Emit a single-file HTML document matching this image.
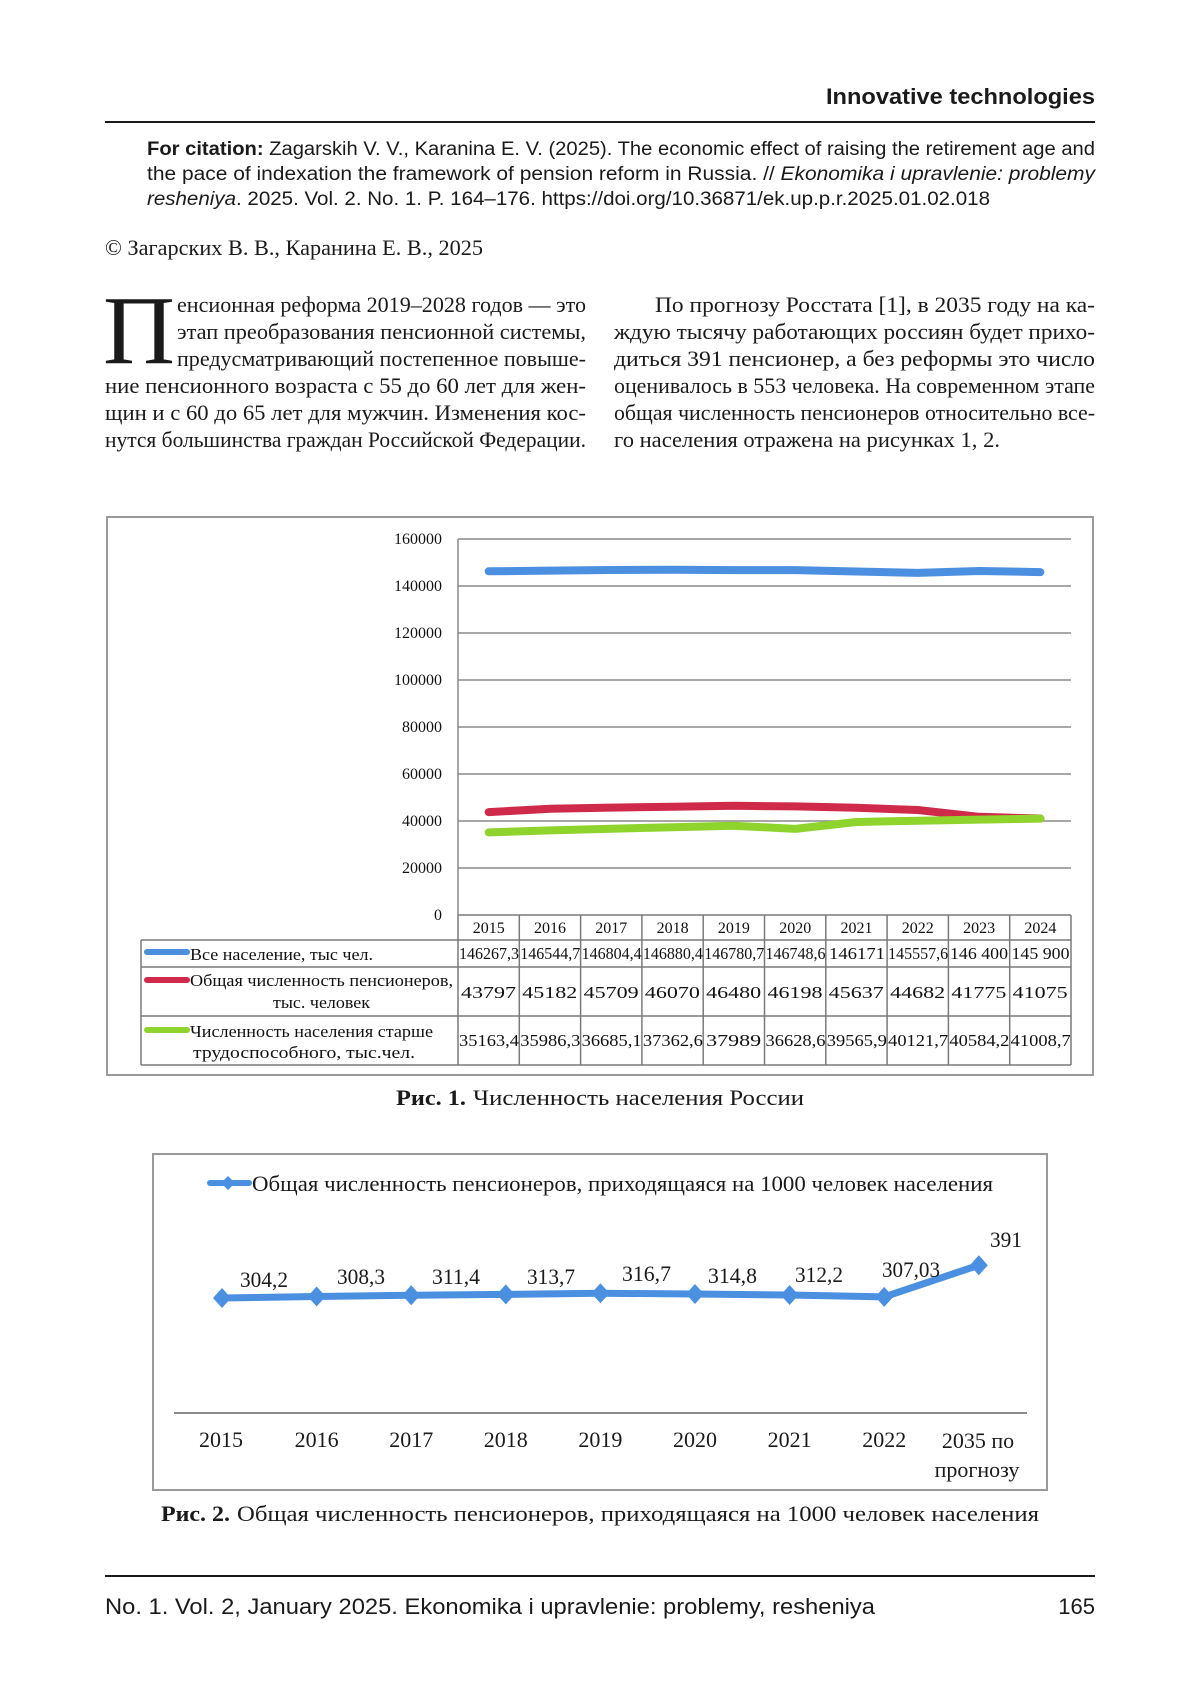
<!DOCTYPE html>
<html>
<head>
<meta charset="utf-8">
<style>
html,body{margin:0;padding:0;background:#fff;}
svg{display:block;}
.serif{font-family:"Liberation Serif","Noto Serif CJK SC",serif;}
.sans{font-family:"Liberation Sans","Noto Sans CJK SC",sans-serif;}
</style>
</head>
<body>
<svg width="1200" height="1698" viewBox="0 0 1200 1698" xmlns="http://www.w3.org/2000/svg">
<rect x="0" y="0" width="1200" height="1698" fill="#fff"/>

<!-- Header -->
<text class="sans" x="1095" y="104" font-size="22" font-weight="bold" text-anchor="end" fill="#1a1a1a" textLength="269" lengthAdjust="spacingAndGlyphs">Innovative technologies</text>
<line x1="105" y1="122" x2="1095" y2="122" stroke="#1a1a1a" stroke-width="2"/>

<!-- Citation -->
<g class="sans" font-size="19" fill="#1a1a1a">
<text x="147" y="155" textLength="948" lengthAdjust="spacingAndGlyphs"><tspan font-weight="bold">For citation:</tspan> Zagarskih V. V., Karanina E. V. (2025). The economic effect of raising the retirement age and</text>
<text x="147" y="180" textLength="948" lengthAdjust="spacingAndGlyphs">the pace of indexation the framework of pension reform in Russia. // <tspan font-style="italic">Ekonomika i upravlenie: problemy</tspan></text>
<text x="147" y="205" textLength="843" lengthAdjust="spacingAndGlyphs"><tspan font-style="italic">resheniya</tspan>. 2025. Vol. 2. No. 1. P. 164–176. https://doi.org/10.36871/ek.up.p.r.2025.01.02.018</text>
</g>

<!-- Copyright -->
<text class="serif" x="105" y="255" font-size="22" fill="#1a1a1a" textLength="378" lengthAdjust="spacingAndGlyphs">© Загарских В. В., Каранина Е. В., 2025</text>

<!-- Body text -->
<g class="serif" font-size="22" fill="#1a1a1a">
<text x="103" y="363" font-size="98" textLength="72" lengthAdjust="spacingAndGlyphs">П</text>
<text x="177" y="312" textLength="409" lengthAdjust="spacingAndGlyphs">енсионная реформа 2019–2028 годов — это</text>
<text x="177" y="339" textLength="409" lengthAdjust="spacingAndGlyphs">этап преобразования пенсионной системы,</text>
<text x="177" y="366" textLength="409" lengthAdjust="spacingAndGlyphs">предусматривающий постепенное повыше-</text>
<text x="105" y="393" textLength="481" lengthAdjust="spacingAndGlyphs">ние пенсионного возраста с 55 до 60 лет для жен-</text>
<text x="105" y="420" textLength="481" lengthAdjust="spacingAndGlyphs">щин и с 60 до 65 лет для мужчин. Изменения кос-</text>
<text x="105" y="447" textLength="481" lengthAdjust="spacingAndGlyphs">нутся большинства граждан Российской Федерации.</text>

<text x="655" y="312" textLength="440" lengthAdjust="spacingAndGlyphs">По прогнозу Росстата [1], в 2035 году на ка-</text>
<text x="614" y="339" textLength="481" lengthAdjust="spacingAndGlyphs">ждую тысячу работающих россиян будет прихо-</text>
<text x="614" y="366" textLength="481" lengthAdjust="spacingAndGlyphs">диться 391 пенсионер, а без реформы это число</text>
<text x="614" y="393" textLength="481" lengthAdjust="spacingAndGlyphs">оценивалось в 553 человека. На современном этапе</text>
<text x="614" y="420" textLength="481" lengthAdjust="spacingAndGlyphs">общая численность пенсионеров относительно все-</text>
<text x="614" y="447" textLength="386" lengthAdjust="spacingAndGlyphs">го населения отражена на рисунках 1, 2.</text>
</g>

<!-- ============ Chart 1 ============ -->
<rect x="107" y="517" width="986" height="558" fill="#fff" stroke="#9a9a9a" stroke-width="2"/>

<!-- gridlines -->
<g stroke="#8a8a8a" stroke-width="1.5">
<line x1="458" y1="539" x2="1071" y2="539"/>
<line x1="458" y1="586" x2="1071" y2="586"/>
<line x1="458" y1="633" x2="1071" y2="633"/>
<line x1="458" y1="680" x2="1071" y2="680"/>
<line x1="458" y1="727" x2="1071" y2="727"/>
<line x1="458" y1="774" x2="1071" y2="774"/>
<line x1="458" y1="821" x2="1071" y2="821"/>
<line x1="458" y1="868" x2="1071" y2="868"/>
<line x1="458" y1="539" x2="458" y2="915"/>
</g>

<!-- y labels -->
<g class="serif" font-size="16" fill="#111" text-anchor="end">
<text x="442" y="544">160000</text>
<text x="442" y="591">140000</text>
<text x="442" y="638">120000</text>
<text x="442" y="685">100000</text>
<text x="442" y="732">80000</text>
<text x="442" y="779">60000</text>
<text x="442" y="826">40000</text>
<text x="442" y="873">20000</text>
<text x="442" y="920">0</text>
</g>

<!-- series -->
<g fill="none" stroke-width="8" stroke-linecap="round" stroke-linejoin="round">
<polyline stroke="#4a8fe0" points="488.7,571.3 550.0,570.6 611.3,570.0 672.6,569.8 733.9,570.1 795.2,570.1 856.5,571.5 917.8,572.9 979.1,571.0 1040.4,572.1"/>
<polyline stroke="#d02a4a" points="488.7,812.1 550.0,808.8 611.3,807.6 672.6,806.7 733.9,805.8 795.2,806.4 856.5,807.8 917.8,810.0 979.1,816.8 1040.4,818.5"/>
<polyline stroke="#8fd42c" points="488.7,832.4 550.0,830.4 611.3,828.8 672.6,827.2 733.9,825.7 795.2,828.9 856.5,822.0 917.8,820.7 979.1,819.6 1040.4,818.6"/>
</g>

<!-- data table -->
<g stroke="#7a7a7a" stroke-width="1.5" fill="none">
<line x1="458" y1="915" x2="1071" y2="915"/>
<line x1="141" y1="940" x2="1071" y2="940"/>
<line x1="141" y1="967" x2="1071" y2="967"/>
<line x1="141" y1="1016" x2="1071" y2="1016"/>
<line x1="141" y1="1065" x2="1071" y2="1065"/>
<line x1="141" y1="940" x2="141" y2="1065"/>
<line x1="458" y1="915" x2="458" y2="1065"/>
<line x1="519.3" y1="915" x2="519.3" y2="1065"/>
<line x1="580.6" y1="915" x2="580.6" y2="1065"/>
<line x1="641.9" y1="915" x2="641.9" y2="1065"/>
<line x1="703.2" y1="915" x2="703.2" y2="1065"/>
<line x1="764.5" y1="915" x2="764.5" y2="1065"/>
<line x1="825.8" y1="915" x2="825.8" y2="1065"/>
<line x1="887.1" y1="915" x2="887.1" y2="1065"/>
<line x1="948.4" y1="915" x2="948.4" y2="1065"/>
<line x1="1009.7" y1="915" x2="1009.7" y2="1065"/>
<line x1="1071" y1="915" x2="1071" y2="1065"/>
</g>

<g class="serif" font-size="16" fill="#111" text-anchor="middle">
<text x="488.7" y="933">2015</text>
<text x="550.0" y="933">2016</text>
<text x="611.3" y="933">2017</text>
<text x="672.6" y="933">2018</text>
<text x="733.9" y="933">2019</text>
<text x="795.2" y="933">2020</text>
<text x="856.5" y="933">2021</text>
<text x="917.8" y="933">2022</text>
<text x="979.1" y="933">2023</text>
<text x="1040.4" y="933">2024</text>
</g>
<g class="serif" font-size="17" fill="#111">
<text x="459" y="959" textLength="60" lengthAdjust="spacingAndGlyphs">146267,3</text>
<text x="520.3" y="959" textLength="60" lengthAdjust="spacingAndGlyphs">146544,7</text>
<text x="581.6" y="959" textLength="60" lengthAdjust="spacingAndGlyphs">146804,4</text>
<text x="642.9" y="959" textLength="60" lengthAdjust="spacingAndGlyphs">146880,4</text>
<text x="704.2" y="959" textLength="60" lengthAdjust="spacingAndGlyphs">146780,7</text>
<text x="765.5" y="959" textLength="60" lengthAdjust="spacingAndGlyphs">146748,6</text>
<text x="829" y="959" textLength="56" lengthAdjust="spacingAndGlyphs">146171</text>
<text x="888.1" y="959" textLength="60" lengthAdjust="spacingAndGlyphs">145557,6</text>
<text x="950" y="959" textLength="58" lengthAdjust="spacingAndGlyphs">146 400</text>
<text x="1011.5" y="959" textLength="58" lengthAdjust="spacingAndGlyphs">145 900</text>

<text x="461" y="998" textLength="55" lengthAdjust="spacingAndGlyphs">43797</text>
<text x="522.3" y="998" textLength="55" lengthAdjust="spacingAndGlyphs">45182</text>
<text x="583.6" y="998" textLength="55" lengthAdjust="spacingAndGlyphs">45709</text>
<text x="644.9" y="998" textLength="55" lengthAdjust="spacingAndGlyphs">46070</text>
<text x="706.2" y="998" textLength="55" lengthAdjust="spacingAndGlyphs">46480</text>
<text x="767.5" y="998" textLength="55" lengthAdjust="spacingAndGlyphs">46198</text>
<text x="828.8" y="998" textLength="55" lengthAdjust="spacingAndGlyphs">45637</text>
<text x="890.1" y="998" textLength="55" lengthAdjust="spacingAndGlyphs">44682</text>
<text x="951.4" y="998" textLength="55" lengthAdjust="spacingAndGlyphs">41775</text>
<text x="1012.7" y="998" textLength="55" lengthAdjust="spacingAndGlyphs">41075</text>

<text x="459" y="1046" textLength="60" lengthAdjust="spacingAndGlyphs">35163,4</text>
<text x="520.3" y="1046" textLength="60" lengthAdjust="spacingAndGlyphs">35986,3</text>
<text x="581.6" y="1046" textLength="60" lengthAdjust="spacingAndGlyphs">36685,1</text>
<text x="642.9" y="1046" textLength="60" lengthAdjust="spacingAndGlyphs">37362,6</text>
<text x="706.2" y="1046" textLength="55" lengthAdjust="spacingAndGlyphs">37989</text>
<text x="765.5" y="1046" textLength="60" lengthAdjust="spacingAndGlyphs">36628,6</text>
<text x="826.8" y="1046" textLength="60" lengthAdjust="spacingAndGlyphs">39565,9</text>
<text x="888.1" y="1046" textLength="60" lengthAdjust="spacingAndGlyphs">40121,7</text>
<text x="949.4" y="1046" textLength="60" lengthAdjust="spacingAndGlyphs">40584,2</text>
<text x="1010.7" y="1046" textLength="60" lengthAdjust="spacingAndGlyphs">41008,7</text>
</g>

<!-- legend keys -->
<g stroke-width="6" stroke-linecap="round">
<line x1="147" y1="952" x2="187" y2="952" stroke="#4a8fe0"/>
<line x1="147" y1="980" x2="187" y2="980" stroke="#d02a4a"/>
<line x1="147" y1="1030" x2="187" y2="1030" stroke="#8fd42c"/>
</g>
<g class="serif" font-size="17" fill="#111">
<text x="190" y="960" textLength="183" lengthAdjust="spacingAndGlyphs">Все население, тыс чел.</text>
<text x="190" y="986" textLength="263" lengthAdjust="spacingAndGlyphs">Общая численность пенсионеров,</text>
<text x="273" y="1008" textLength="97" lengthAdjust="spacingAndGlyphs">тыс. человек</text>
<text x="190" y="1037" textLength="243" lengthAdjust="spacingAndGlyphs">Численность населения старше</text>
<text x="193" y="1058" textLength="222" lengthAdjust="spacingAndGlyphs">трудоспособного, тыс.чел.</text>
</g>

<!-- caption 1 -->
<g class="serif" font-size="22" fill="#1a1a1a">
<text x="396" y="1105" font-weight="bold" textLength="70" lengthAdjust="spacingAndGlyphs">Рис. 1.</text>
<text x="473" y="1105" textLength="331" lengthAdjust="spacingAndGlyphs">Численность населения России</text>
</g>

<!-- ============ Chart 2 ============ -->
<rect x="153" y="1154" width="894" height="336" fill="#fff" stroke="#9a9a9a" stroke-width="2"/>

<!-- legend -->
<line x1="210" y1="1183" x2="249" y2="1183" stroke="#4a8fe0" stroke-width="6" stroke-linecap="round"/>
<polygon points="228,1176 235,1183 228,1190 221,1183" fill="#4a8fe0"/>
<text class="serif" x="252" y="1191" font-size="22" fill="#1a1a1a" textLength="741" lengthAdjust="spacingAndGlyphs">Общая численность пенсионеров, приходящаяся на 1000 человек населения</text>

<!-- axis -->
<line x1="174" y1="1413" x2="1027" y2="1413" stroke="#8a8a8a" stroke-width="2"/>

<!-- series -->
<polyline fill="none" stroke="#4a8fe0" stroke-width="7" stroke-linejoin="round" points="222,1298 316.6,1296.5 411.2,1295.3 505.8,1294.4 600.4,1293.3 695,1294 789.6,1295 884.2,1296.9 978.8,1265.2"/>
<g fill="#4a8fe0">
<polygon points="222,1288 231,1298 222,1308 213,1298"/>
<polygon points="316.6,1286.5 325.6,1296.5 316.6,1306.5 307.6,1296.5"/>
<polygon points="411.2,1285.3 420.2,1295.3 411.2,1305.3 402.2,1295.3"/>
<polygon points="505.8,1284.4 514.8,1294.4 505.8,1304.4 496.8,1294.4"/>
<polygon points="600.4,1283.3 609.4,1293.3 600.4,1303.3 591.4,1293.3"/>
<polygon points="695,1284 704,1294 695,1304 686,1294"/>
<polygon points="789.6,1285 798.6,1295 789.6,1305 780.6,1295"/>
<polygon points="884.2,1286.9 893.2,1296.9 884.2,1306.9 875.2,1296.9"/>
<polygon points="978.8,1255.2 987.8,1265.2 978.8,1275.2 969.8,1265.2"/>
</g>

<!-- data labels -->
<g class="serif" font-size="22" fill="#1a1a1a">
<text x="240" y="1287" textLength="48" lengthAdjust="spacingAndGlyphs">304,2</text>
<text x="337" y="1284" textLength="48" lengthAdjust="spacingAndGlyphs">308,3</text>
<text x="432" y="1284" textLength="48" lengthAdjust="spacingAndGlyphs">311,4</text>
<text x="527" y="1284" textLength="48" lengthAdjust="spacingAndGlyphs">313,7</text>
<text x="622" y="1281" textLength="49" lengthAdjust="spacingAndGlyphs">316,7</text>
<text x="708" y="1283" textLength="49" lengthAdjust="spacingAndGlyphs">314,8</text>
<text x="795" y="1282" textLength="48" lengthAdjust="spacingAndGlyphs">312,2</text>
<text x="882" y="1277" textLength="58" lengthAdjust="spacingAndGlyphs">307,03</text>
<text x="990" y="1247" textLength="32" lengthAdjust="spacingAndGlyphs">391</text>
</g>

<!-- x labels -->
<g class="serif" font-size="22" fill="#1a1a1a" text-anchor="middle">
<text x="221" y="1447">2015</text>
<text x="316.6" y="1447">2016</text>
<text x="411.2" y="1447">2017</text>
<text x="505.8" y="1447">2018</text>
<text x="600.4" y="1447">2019</text>
<text x="695" y="1447">2020</text>
<text x="789.6" y="1447">2021</text>
<text x="884.2" y="1447">2022</text>
<text x="978" y="1448">2035 по</text>
<text x="977" y="1477">прогнозу</text>
</g>

<!-- caption 2 -->
<g class="serif" font-size="22" fill="#1a1a1a">
<text x="161" y="1521" font-weight="bold" textLength="69" lengthAdjust="spacingAndGlyphs">Рис. 2.</text>
<text x="237" y="1521" textLength="802" lengthAdjust="spacingAndGlyphs">Общая численность пенсионеров, приходящаяся на 1000 человек населения</text>
</g>

<!-- Footer -->
<line x1="105" y1="1576" x2="1095" y2="1576" stroke="#1a1a1a" stroke-width="2"/>
<text class="sans" x="105" y="1614" font-size="22" fill="#1a1a1a" textLength="770" lengthAdjust="spacingAndGlyphs">No. 1. Vol. 2, January 2025. Ekonomika i upravlenie: problemy, resheniya</text>
<text class="sans" x="1095" y="1614" font-size="22" fill="#1a1a1a" text-anchor="end">165</text>
</svg>
</body>
</html>
